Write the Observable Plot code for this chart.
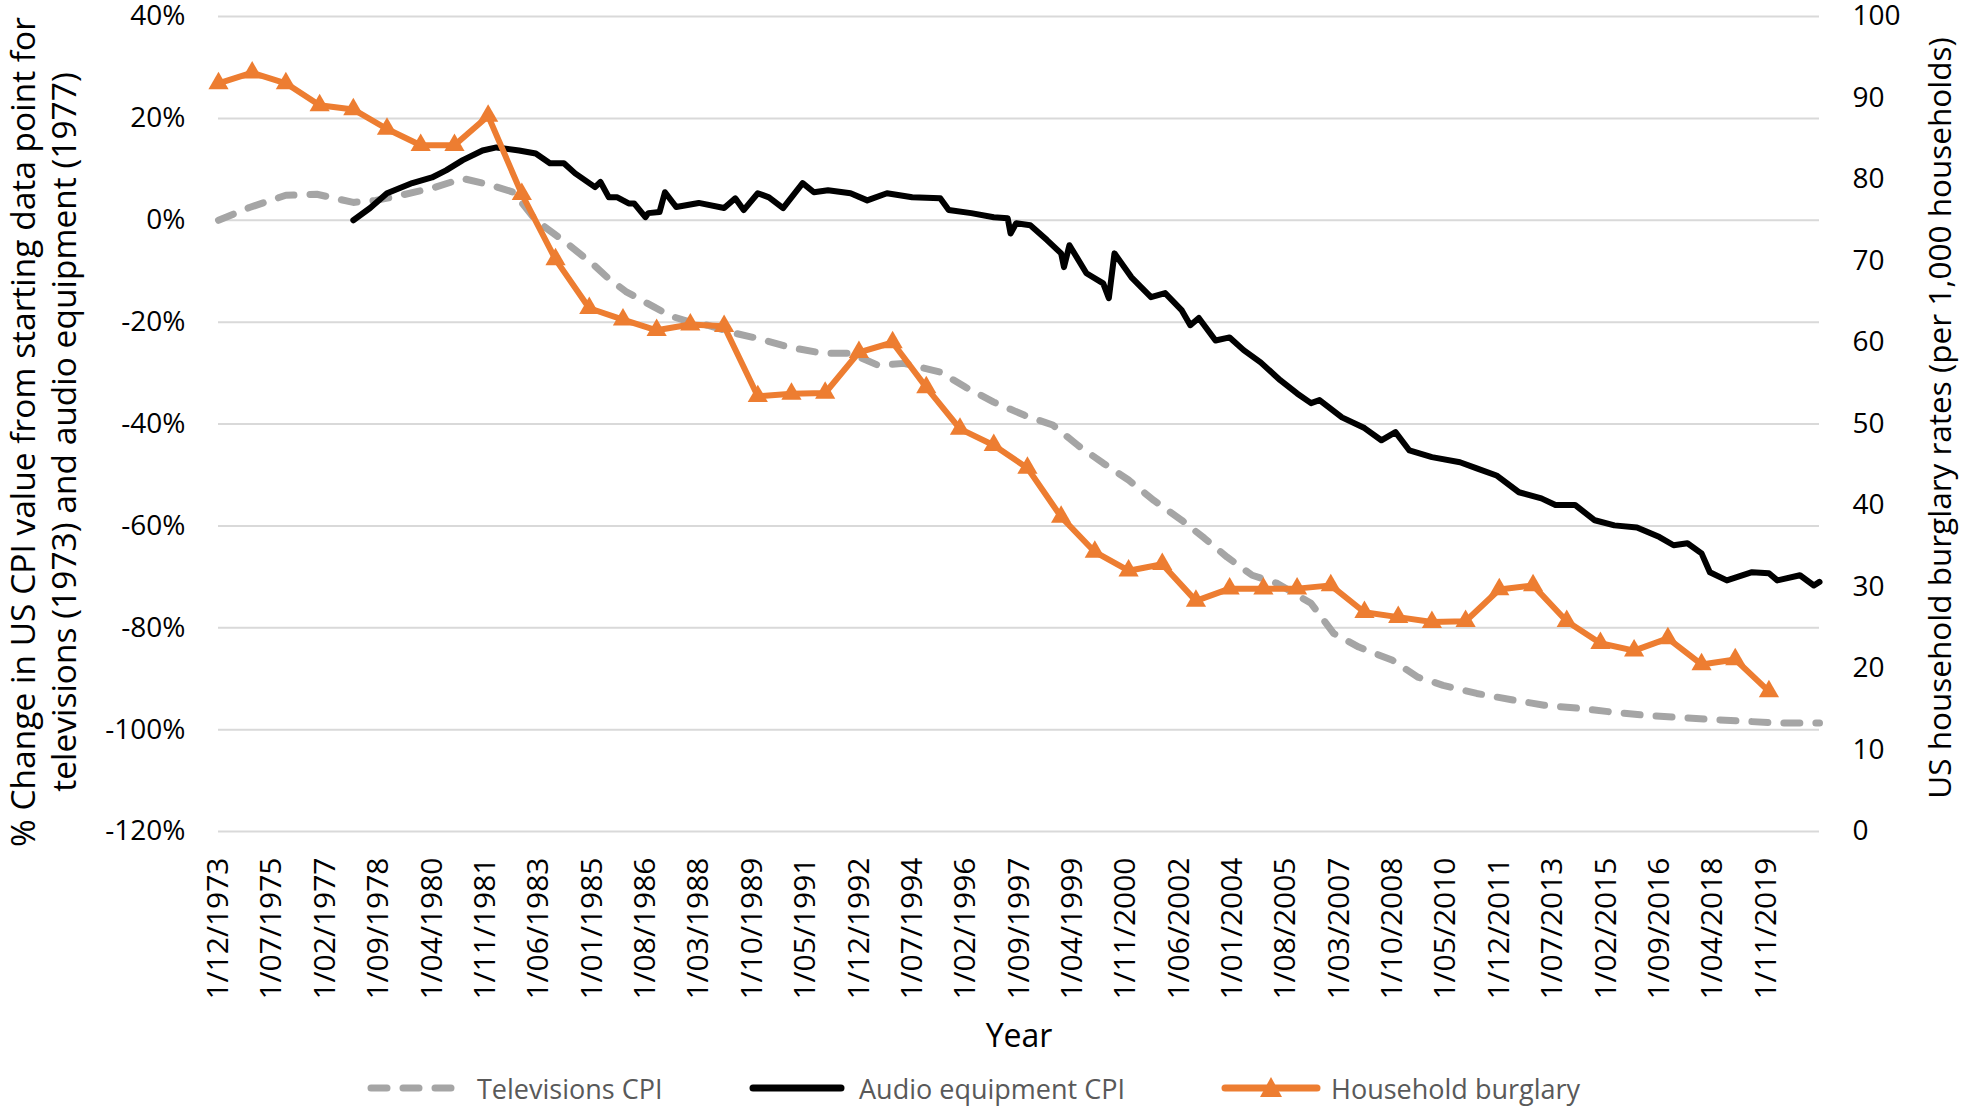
<!DOCTYPE html>
<html><head><meta charset="utf-8">
<script src="https://cdn.jsdelivr.net/npm/d3@7"></script>
<script src="https://cdn.jsdelivr.net/npm/@observablehq/plot@0.6"></script>
<style>
html,body{margin:0;padding:0;background:#fff;}
#wrap{position:relative;width:1963px;height:1111px;font-family:"Open Sans",sans-serif;overflow:hidden;}
#legend{position:absolute;left:0;top:1066px;width:1963px;height:44px;}
.item{position:absolute;top:0;height:44px;display:flex;align-items:center;font-size:27px;color:#595959;white-space:nowrap;}
.item svg{display:block;}
</style></head>
<body><div id="wrap"><div id="chart"></div><div id="legend"></div></div>
<script>
// ---- data ----
const xTickLabels = ["1/12/1973","1/07/1975","1/02/1977","1/09/1978","1/04/1980","1/11/1981","1/06/1983","1/01/1985","1/08/1986","1/03/1988","1/10/1989","1/05/1991","1/12/1992","1/07/1994","1/02/1996","1/09/1997","1/04/1999","1/11/2000","1/06/2002","1/01/2004","1/08/2005","1/03/2007","1/10/2008","1/05/2010","1/12/2011","1/07/2013","1/02/2015","1/09/2016","1/04/2018","1/11/2019"];
const leftTicks = [40, 20, 0, -20, -40, -60, -80, -100, -120];
const rightTicks = [100, 90, 80, 70, 60, 50, 40, 30, 20, 10, 0];

const tvDates = ["1973-12","1974-11","1975-12","1976-11","1977-12","1978-08","1979-05","1980-04","1981-03","1982-01","1982-09","1983-05","1984-04","1985-02","1985-07","1986-01","1986-11","1987-05","1987-12","1988-06","1989-04","1989-12","1990-11","1991-11","1992-09","1993-07","1994-04","1995-05","1996-02","1996-12","1997-11","1998-09","1999-06","2000-03","2000-12","2001-09","2002-07","2003-03","2003-11","2004-08","2005-05","2006-05","2007-01","2007-10","2008-10","2009-07","2010-04","2011-04","2012-05","2013-04","2014-04","2015-05","2016-04","2017-04","2018-03","2019-02","2020-02","2021-06"];
const tvValues = [0,2.5,4.9,5.1,3.5,3.9,4.9,6.3,8.2,6.9,5.5,0.0,-4.5,-9.0,-11.5,-14.0,-17.0,-18.8,-20,-20.6,-22.2,-23.2,-24.9,-26.1,-26.1,-28.5,-28.1,-29.8,-32.8,-35.7,-38.3,-40.2,-44.2,-47.7,-51,-55,-58.9,-62.4,-66.1,-69.7,-71.3,-75.2,-81.1,-83.8,-86.4,-89.7,-91.3,-92.9,-94.2,-95.2,-95.8,-96.6,-97.2,-97.6,-98,-98.3,-98.7,-98.7];

const audioDates = ["1977-12","1978-06","1978-12","1979-09","1980-04","1980-09","1981-03","1981-10","1982-03","1982-11","1983-05","1983-10","1984-03","1984-07","1985-02","1985-04","1985-07","1985-10","1986-02","1986-04","1986-08","1986-09","1987-01","1987-03","1987-07","1988-03","1988-12","1989-04","1989-07","1989-12","1990-04","1990-09","1991-04","1991-08","1992-01","1992-09","1993-03","1993-10","1994-07","1995-05","1995-08","1996-04","1996-12","1997-05","1997-06","1997-08","1998-01","1998-07","1998-12","1999-01","1999-03","1999-09","2000-03","2000-05","2000-07","2001-01","2001-08","2002-01","2002-07","2002-10","2003-01","2003-07","2003-12","2004-05","2004-11","2005-06","2005-12","2006-05","2006-08","2007-04","2007-12","2008-06","2008-11","2009-04","2009-12","2010-10","2011-04","2011-11","2012-07","2013-03","2013-08","2014-03","2014-10","2015-05","2016-01","2016-09","2017-02","2017-07","2017-12","2018-03","2018-09","2019-06","2019-12","2020-03","2020-11","2021-04","2021-06"];
const audioValues = [0,2.4,5.3,7.3,8.4,9.8,11.8,13.7,14.3,13.7,13.1,11.2,11.2,9.2,6.5,7.5,4.5,4.5,3.3,3.3,0.6,1.4,1.6,5.5,2.6,3.4,2.4,4.3,2.0,5.3,4.5,2.4,7.3,5.5,5.9,5.3,3.9,5.3,4.5,4.3,2.0,1.4,0.6,0.4,-2.6,-0.6,-1.0,-3.9,-6.5,-9.2,-4.9,-10.4,-12.4,-15.3,-6.5,-11.2,-15.1,-14.3,-17.7,-20.6,-19.2,-23.6,-23.0,-25.5,-27.9,-31.4,-34.0,-35.9,-35.3,-38.7,-40.8,-43.2,-41.6,-45.2,-46.5,-47.5,-48.7,-50.1,-53.4,-54.6,-55.9,-55.9,-58.9,-59.9,-60.3,-62.2,-63.8,-63.4,-65.4,-69.1,-70.7,-69.1,-69.3,-70.7,-69.7,-71.7,-71.0];

const burglaryYears = [1973,1974,1975,1976,1977,1978,1979,1980,1981,1982,1983,1984,1985,1986,1987,1988,1989,1990,1991,1992,1993,1994,1995,1996,1997,1998,1999,2000,2001,2002,2003,2004,2005,2006,2007,2008,2009,2010,2011,2012,2013,2014,2015,2016,2017,2018,2019];
const burglaryRates = [91.8,93.1,91.8,89.1,88.6,86.2,84.2,84.2,87.8,78.2,70.2,64.2,62.8,61.5,62.2,62.0,53.4,53.7,53.8,58.8,60.0,54.5,49.4,47.4,44.6,38.6,34.3,32.0,32.8,28.3,29.8,29.8,29.8,30.2,26.9,26.3,25.7,25.8,29.7,30.2,25.8,23.1,22.2,23.7,20.5,21.1,17.2];

const seriesNames = ["Televisions CPI", "Audio equipment CPI", "Household burglary"];
const leftTitle = "% Change in US CPI value from starting data point for\ntelevisions (1973) and audio equipment (1977)";
const rightTitle = "US household burglary rates (per 1,000 households)";
const xTitle = "Year";

// ---- helpers ----
const parseYM = s => { const [y, m] = s.split("-").map(Number); return new Date(Date.UTC(y, m - 1, 1)); };
const parseLabel = s => { const [d, m, y] = s.split("/").map(Number); return new Date(Date.UTC(y, m - 1, d)); };
const toLeft = r => -120 + r * 1.6;   // right axis (0..100) onto left axis (-120..40)

const tv = tvDates.map((d, i) => ({date: parseYM(d), value: tvValues[i]}));
const audio = audioDates.map((d, i) => ({date: parseYM(d), value: audioValues[i]}));
const burg = burglaryYears.map((y, i) => ({date: new Date(Date.UTC(y, 11, 1)), rate: burglaryRates[i]}));
const xTicks = xTickLabels.map(parseLabel);
const labelMap = new Map(xTicks.map((d, i) => [+d, xTickLabels[i]]));

const chart = Plot.plot({
  width: 1963, height: 1065,
  marginLeft: 218, marginRight: 144, marginTop: 16, marginBottom: 234,
  style: {fontFamily: "'Open Sans', sans-serif", background: "white", color: "black", overflow: "visible"},
  x: {type: "utc", domain: [parseYM("1973-12"), parseYM("2021-06")]},
  y: {domain: [-120, 40]},
  marks: [
    Plot.gridY(leftTicks, {stroke: "#d9d9d9", strokeOpacity: 1, strokeWidth: 2}),
    Plot.axisY(leftTicks, {anchor: "left", tickSize: 0, tickPadding: 33, tickFormat: d => d + "%", fontSize: 28, label: null}),
    Plot.axisY(rightTicks.map(toLeft), {anchor: "right", tickSize: 0, tickPadding: 33, tickFormat: v => String(Math.round((v + 120) / 1.6)), fontSize: 28, label: null}),
    Plot.axisX(xTicks, {anchor: "bottom", tickSize: 0, tickPadding: 26, tickRotate: -90, tickFormat: d => labelMap.get(+d), fontSize: 30, label: null}),
    Plot.line(tv, {x: "date", y: "value", stroke: "#a5a5a5", strokeWidth: 7, strokeDasharray: "16,16", strokeLinecap: "round", strokeLinejoin: "round"}),
    Plot.line(audio, {x: "date", y: "value", stroke: "#000000", strokeWidth: 6, strokeLinejoin: "round", strokeLinecap: "round"}),
    Plot.line(burg, {x: "date", y: d => toLeft(d.rate), stroke: "#ed7d31", strokeWidth: 6, strokeLinejoin: "round"}),
    Plot.dot(burg, {x: "date", y: d => toLeft(d.rate), symbol: "triangle", r: 7.5, fill: "#ed7d31", stroke: "none"}),
    Plot.text([xTitle], {frameAnchor: "bottom", dy: 215, fontSize: 32, textAnchor: "middle", text: d => d}),
    Plot.text([leftTitle], {frameAnchor: "left", rotate: -90, dx: -176, dy: 8, fontSize: 33.5, lineHeight: 1.23, textAnchor: "middle", text: d => d}),
    Plot.text([rightTitle], {frameAnchor: "right", rotate: -90, dx: 121, dy: -6, fontSize: 31.5, textAnchor: "middle", text: d => d})
  ]
});
document.getElementById("chart").appendChild(chart);

// ---- legend ----
const legend = document.getElementById("legend");
const items = [
  {left: 367, w: 92, gap: 18, draw: () => `<line x1="4" y1="22" x2="88" y2="22" stroke="#a5a5a5" stroke-width="7" stroke-linecap="round" stroke-dasharray="16,16"/>`},
  {left: 749, w: 96, gap: 14, draw: () => `<line x1="4" y1="22" x2="92" y2="22" stroke="#000" stroke-width="7" stroke-linecap="round"/>`},
  {left: 1221, w: 100, gap: 10, draw: () => `<line x1="4" y1="22" x2="96" y2="22" stroke="#ed7d31" stroke-width="7" stroke-linecap="round"/><path d="M50,11 L61,31 L39,31 Z" fill="#ed7d31"/>`}
];
items.forEach((it, i) => {
  const div = document.createElement("div");
  div.className = "item";
  div.style.left = it.left + "px";
  div.innerHTML = `<svg width="${it.w}" height="44" style="margin-right:${it.gap}px">${it.draw()}</svg><span>${seriesNames[i]}</span>`;
  legend.appendChild(div);
});
</script></body></html>
